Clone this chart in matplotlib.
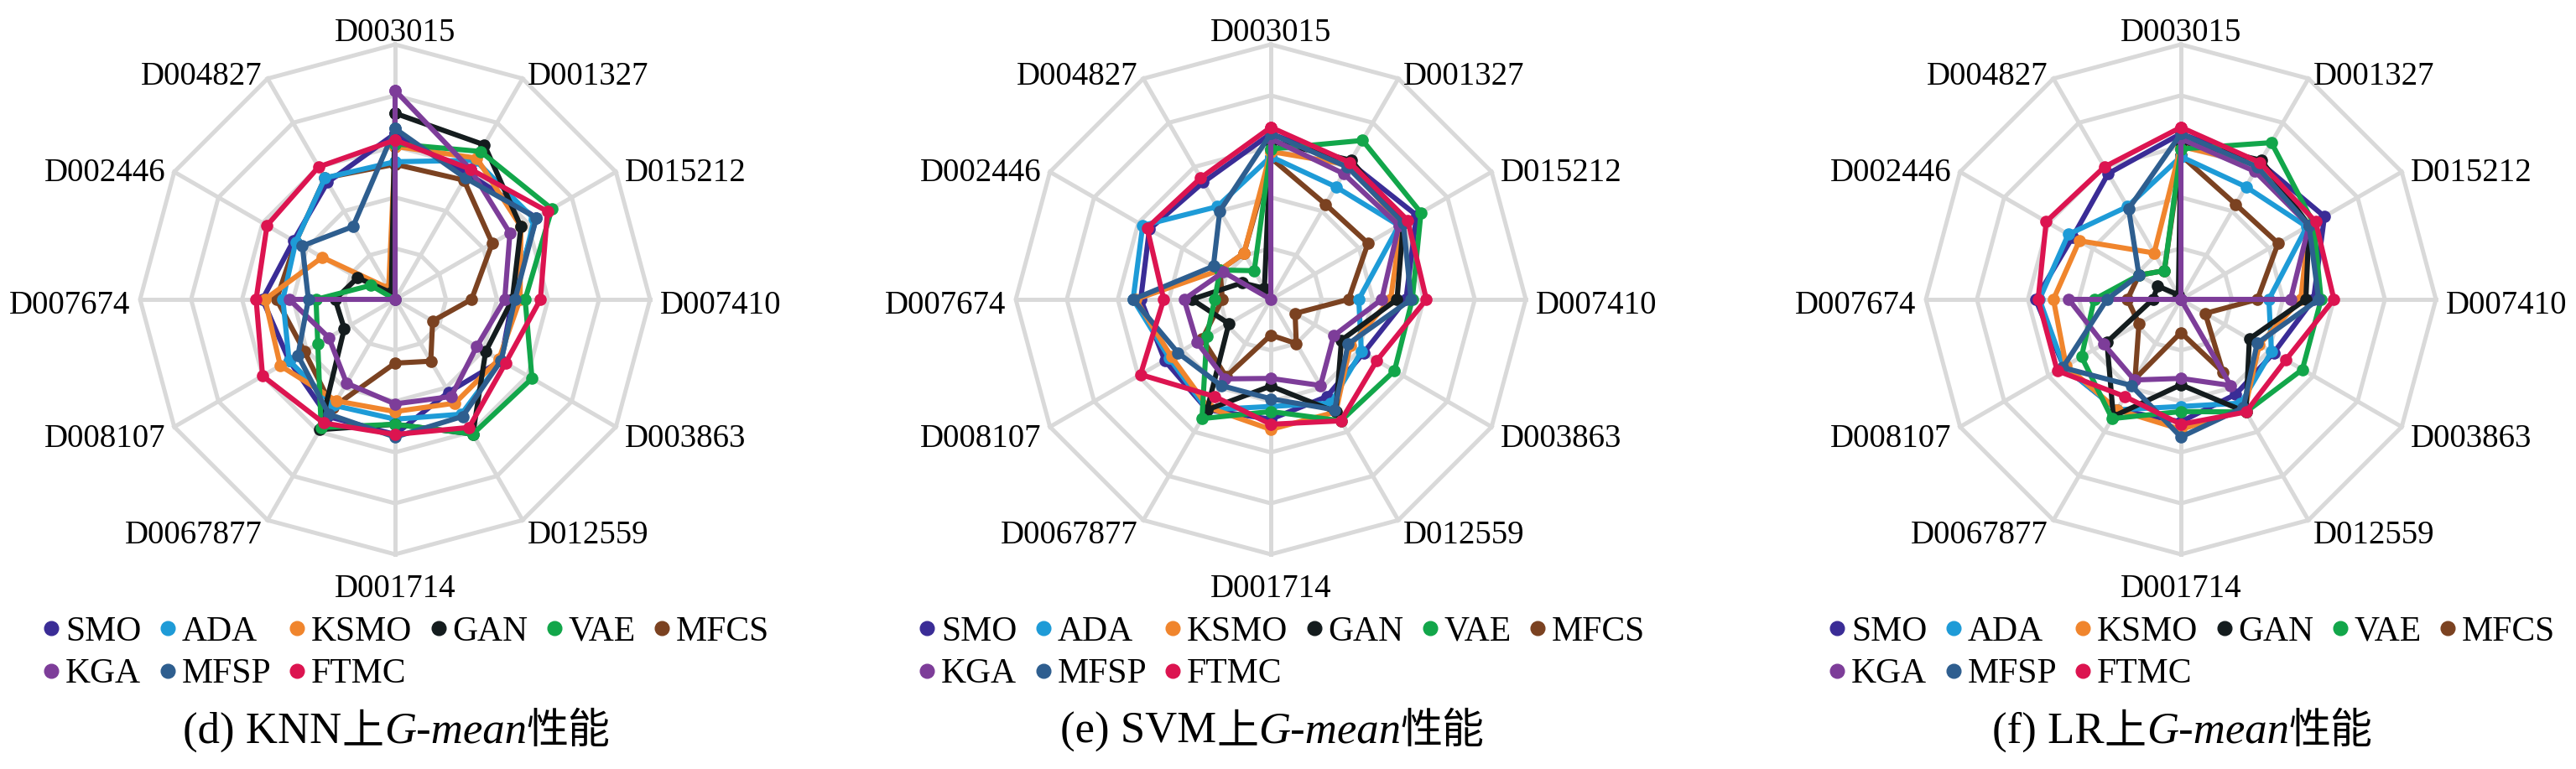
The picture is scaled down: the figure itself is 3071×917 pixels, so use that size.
import numpy as np
import matplotlib
matplotlib.use("Agg")
import matplotlib.pyplot as plt
import matplotlib.transforms as mtransforms
from matplotlib.lines import Line2D
from matplotlib.offsetbox import TextArea, HPacker, AnnotationBbox

# ---- data (G-mean) ----
datasets = ["D003015", "D001327", "D015212", "D007410", "D003863", "D012559",
            "D001714", "D0067877", "D008107", "D007674", "D002446", "D004827"]
methods = ["SMO", "ADA", "KSMO", "GAN", "VAE", "MFCS", "KGA", "MFSP", "FTMC"]
colors = ["#3A2C96", "#1E9BD7", "#F0852D", "#141C1E", "#12A64A",
          "#7B4221", "#7D3D99", "#2E5E8F", "#DC1450"]

knn_vals = [
    [0.65, 0.57, 0.64, 0.46, 0.48, 0.42, 0.53, 0.53, 0.48, 0.52, 0.46, 0.53],   # SMO
    [0.54, 0.63, 0.63, 0.47, 0.48, 0.52, 0.47, 0.48, 0.48, 0.44, 0.45, 0.55],   # ADA
    [0.60, 0.64, 0.57, 0.49, 0.47, 0.47, 0.44, 0.46, 0.52, 0.51, 0.33, 0.05],   # KSMO
    [0.73, 0.70, 0.57, 0.46, 0.41, 0.61, 0.49, 0.59, 0.23, 0.235, 0.17, 0.03],  # GAN
    [0.61, 0.67, 0.71, 0.51, 0.62, 0.61, 0.49, 0.58, 0.35, 0.31, 0.11, 0.0],    # VAE
    [0.53, 0.54, 0.44, 0.30, 0.17, 0.28, 0.25, 0.49, 0.41, 0.465, 0.45, 0.55],  # MFCS
    [0.82, 0.59, 0.52, 0.43, 0.37, 0.44, 0.41, 0.38, 0.30, 0.415, 0.0, 0.0],    # KGA
    [0.67, 0.55, 0.64, 0.47, 0.48, 0.53, 0.54, 0.52, 0.44, 0.34, 0.42, 0.33],   # MFSP
    [0.625, 0.59, 0.69, 0.57, 0.50, 0.58, 0.53, 0.56, 0.60, 0.545, 0.58, 0.60], # FTMC
]
svm_vals = [
    [0.65, 0.62, 0.66, 0.53, 0.42, 0.44, 0.47, 0.50, 0.48, 0.51, 0.55, 0.53],
    [0.56, 0.51, 0.58, 0.345, 0.41, 0.47, 0.42, 0.50, 0.46, 0.54, 0.58, 0.42],
    [0.58, 0.61, 0.59, 0.47, 0.36, 0.51, 0.51, 0.49, 0.45, 0.53, 0.23, 0.21],
    [0.62, 0.63, 0.60, 0.495, 0.32, 0.51, 0.34, 0.50, 0.19, 0.31, 0.13, 0.05],
    [0.59, 0.72, 0.68, 0.555, 0.56, 0.55, 0.44, 0.54, 0.29, 0.22, 0.23, 0.13],
    [0.555, 0.43, 0.44, 0.305, 0.11, 0.20, 0.14, 0.35, 0.31, 0.19, 0.23, 0.21],
    [0.63, 0.57, 0.58, 0.435, 0.285, 0.39, 0.31, 0.36, 0.335, 0.34, 0.215, 0.0],
    [0.65, 0.60, 0.60, 0.55, 0.35, 0.50, 0.39, 0.39, 0.42, 0.54, 0.26, 0.40],
    [0.675, 0.62, 0.62, 0.61, 0.48, 0.55, 0.49, 0.44, 0.59, 0.42, 0.56, 0.55],
]
lr_vals = [
    [0.65, 0.62, 0.65, 0.52, 0.42, 0.43, 0.48, 0.50, 0.53, 0.57, 0.49, 0.57],
    [0.56, 0.51, 0.57, 0.345, 0.41, 0.47, 0.42, 0.50, 0.53, 0.555, 0.51, 0.42],
    [0.60, 0.61, 0.58, 0.47, 0.355, 0.50, 0.51, 0.50, 0.52, 0.50, 0.46, 0.21],
    [0.62, 0.63, 0.58, 0.49, 0.31, 0.51, 0.335, 0.53, 0.335, 0.11, 0.105, 0.02],
    [0.59, 0.71, 0.60, 0.55, 0.55, 0.51, 0.44, 0.54, 0.45, 0.34, 0.19, 0.13],
    [0.565, 0.43, 0.44, 0.30, 0.11, 0.33, 0.13, 0.36, 0.19, 0.21, 0.19, 0.13],
    [0.63, 0.58, 0.58, 0.43, 0.0, 0.39, 0.31, 0.365, 0.35, 0.44, 0.0, 0.0],
    [0.65, 0.60, 0.58, 0.54, 0.345, 0.49, 0.54, 0.39, 0.535, 0.29, 0.19, 0.41],
    [0.675, 0.62, 0.61, 0.60, 0.475, 0.51, 0.49, 0.44, 0.56, 0.56, 0.61, 0.60],
]
panels = [("(d) KNN", knn_vals), ("(e) SVM", svm_vals), ("(f) LR", lr_vals)]
rings = [0.2, 0.4, 0.6, 0.8, 1.0]
draw_order = [5, 0, 1, 2, 3, 4, 6, 7, 8]   # MFCS sits underneath the rest

# ---- layout (pixels of the 3071x917 canvas) ----
W, H = 3071, 917
centers_x = [471, 1515, 2600]
cy, R = 357, 304
grid_c = "#D9D9D9"
serif = "Liberation Serif"
cjk = "Noto Sans CJK SC"

fig = plt.figure(figsize=(W / 100, H / 100), dpi=100)
fig.patch.set_facecolor("white")

angles = np.linspace(0, 2 * np.pi, len(datasets), endpoint=False)
closed = np.append(angles, angles[0])

for (tag, vals), cx in zip(panels, centers_x):
    ax = fig.add_axes([(cx - R) / W, (H - cy - R) / H, 2 * R / W, 2 * R / H],
                      projection="polar")
    ax.set_theta_zero_location("N")
    ax.set_theta_direction(-1)
    ax.set_ylim(0, 1)
    ax.set_xticks([]); ax.set_yticks([])
    ax.grid(False)
    ax.spines["polar"].set_visible(False)
    ax.set_facecolor("none")

    # polygon grid
    for lv in rings:
        ax.plot(closed, np.full(len(closed), lv), color=grid_c, lw=3.6,
                zorder=1, clip_on=False, solid_joinstyle="miter")
    for a in angles:
        ax.plot([a, a], [0, 1], color=grid_c, lw=3.6, zorder=1, clip_on=False)

    # series
    for i in draw_order:
        v = np.append(vals[i], vals[i][0])
        ax.plot(closed, v, "-o", color=colors[i], lw=4.4, ms=9.5, zorder=3,
                clip_on=False)

    # dataset labels
    trans = mtransforms.offset_copy(ax.transData, fig=fig, x=0, y=-8, units="dots")
    for a, name in zip(angles, datasets):
        s, c = np.sin(a), np.cos(a)
        if abs(s) < 0.1:
            ha, r = "center", (1.07 if c > 0 else 1.11)
        else:
            ha, r = ("left" if s > 0 else "right"), 1.04
        ax.text(a, r, name, ha=ha, va="center", fontsize=28, family=serif,
                transform=trans, clip_on=False)

    # legend (row-major order in a column-major legend)
    order = [0, 6, 1, 7, 2, 8, 3, 4, 5]
    handles = [Line2D([], [], marker="o", ls="", color=colors[i], ms=12) for i in order]
    labels = [methods[i] for i in order]
    ax.legend(handles, labels, ncol=6, loc="upper left",
              bbox_to_anchor=((cx - 420) / W, 1 - 734 / H),
              bbox_transform=fig.transFigure, frameon=False,
              prop={"family": serif, "size": 30}, handlelength=0.5,
              handletextpad=0.15, columnspacing=0.5, borderpad=0,
              borderaxespad=0, labelspacing=0.3)

    # caption: mixed fonts
    parts = [TextArea(tag, textprops=dict(family=serif, size=38)),
             TextArea("上", textprops=dict(family=cjk, size=36)),
             TextArea("G-mean", textprops=dict(family=serif, size=38, style="italic")),
             TextArea("性能", textprops=dict(family=cjk, size=36))]
    box = HPacker(children=parts, pad=0, sep=0, align="baseline")
    ab = AnnotationBbox(box, ((cx + 2) / W, 1 - 872 / H), xycoords="figure fraction",
                        frameon=False, box_alignment=(0.5, 0.5))
    fig.add_artist(ab)

fig.savefig("out.png", dpi=100, facecolor="white")
